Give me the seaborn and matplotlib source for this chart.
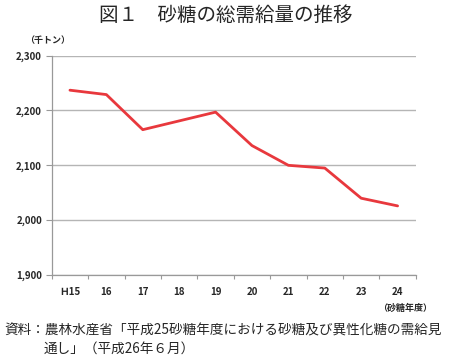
import numpy as np
import pandas as pd
import matplotlib
matplotlib.use("Agg")
import matplotlib.pyplot as plt
import seaborn as sns
from matplotlib.ticker import FixedLocator, FuncFormatter

# 砂糖の総需給量 (千トン)
anos = ["Ｈ15", "16", "17", "18", "19", "20", "21", "22", "23", "24"]
valores = [2237, 2229, 2165, 2181, 2197, 2136, 2100, 2095, 2040, 2026]
yticks = [1900, 2000, 2100, 2200, 2300]

sns.set_theme(style="white")
plt.rcParams['font.family'] = ['Noto Sans CJK JP', 'DejaVu Sans']

df = pd.DataFrame({"pos": np.arange(len(anos)), "valor": valores})

fig = plt.figure(figsize=(4.5, 3.59), dpi=100)
ax = fig.add_axes([0.115, 0.234, 0.809, 0.611])

sns.lineplot(data=df, x="pos", y="valor", ax=ax, color="#e8383d", linewidth=2.0)

ax.set_xlim(-0.5, len(anos) - 0.5)
ax.set_ylim(yticks[0], yticks[-1])

# eixo y
ax.set_yticks(yticks)
ax.yaxis.set_major_formatter(FuncFormatter(lambda v, p: f"{int(v):,}"))
ax.tick_params(axis="y", length=4, width=0.8, color="#999999", pad=3,
               labelsize=7, direction="out", left=True)
ax.grid(axis="y", color="#b5b5b5", linewidth=1)

# eixo x: marcas entre categorias, rótulos no centro
ax.xaxis.set_major_locator(FixedLocator(np.arange(-0.5, len(anos), 1)))
ax.xaxis.set_minor_locator(FixedLocator(np.arange(len(anos))))
ax.set_xticklabels([])
ax.set_xticklabels(anos, minor=True)
ax.tick_params(axis="x", which="major", length=3, width=0.8, color="#999999",
               direction="out", bottom=True)
ax.tick_params(axis="x", which="minor", length=0, pad=9, labelsize=7)

for lab in ax.get_xticklabels(minor=True) + ax.get_yticklabels():
    lab.set_fontweight("bold")

ax.set_xlabel("")
ax.set_ylabel("")
for s in ["top", "right"]:
    ax.spines[s].set_visible(False)
for s in ["left", "bottom"]:
    ax.spines[s].set_color("#999999")
    ax.spines[s].set_linewidth(0.9)

fig.text(0.502, 0.958, "図１　砂糖の総需給量の推移", ha="center", va="center",
         fontsize=14)
fig.text(0.055, 0.888, "（千トン）", ha="left", va="center", fontsize=6.5,
         fontweight="bold")
fig.text(0.96, 0.142, "（砂糖年度）", ha="right", va="center", fontsize=6.5,
         fontweight="bold")
fig.text(0.01, 0.08, "資料：農林水産省「平成25砂糖年度における砂糖及び異性化糖の需給見",
         ha="left", va="center", fontsize=9.8)
fig.text(0.098, 0.028, "通し」（平成26年６月）", ha="left", va="center", fontsize=9.8)

fig.savefig("out.png", dpi=100)
